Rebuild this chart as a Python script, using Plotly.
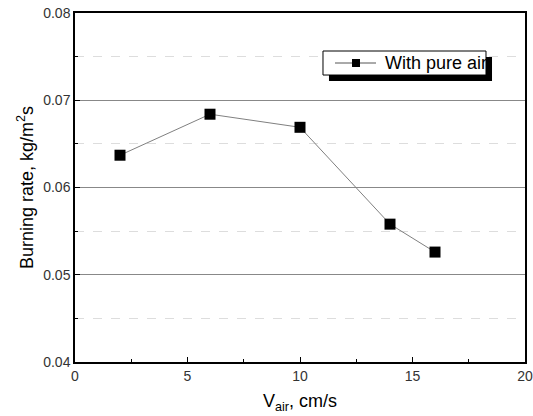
import plotly.graph_objects as go

v_air = [2, 6, 10, 14, 16]
burning_rate = [0.0637, 0.0684, 0.0669, 0.0558, 0.0526]
series_name = "With pure air"

fig = go.Figure()
fig.add_trace(go.Scatter(
    x=v_air, y=burning_rate, mode="lines+markers", name=series_name,
    line=dict(color="#808080", width=1),
    marker=dict(symbol="square", size=11, color="black"),
    showlegend=False,
))

font_family = "Arial, Liberation Sans, sans-serif"
fig.update_layout(
    width=533, height=416,
    margin=dict(l=75, r=8, t=13, b=54),
    paper_bgcolor="white", plot_bgcolor="white",
    font=dict(family=font_family, color="#222"),
    xaxis=dict(range=[0, 20], tickvals=[0, 5, 10, 15, 20], automargin=False,
               ticks="inside", ticklen=5, tickcolor="black", tickwidth=1,
               minor=dict(tickvals=[2.5, 7.5, 12.5, 17.5], ticks="inside", ticklen=3, tickcolor="black"),
               showgrid=False, zeroline=False,
               showline=True, linecolor="black", linewidth=1.5, mirror=True,
               tickfont=dict(size=14, color="#333"),
               title=dict(text="V<sub>air</sub>, cm/s", font=dict(size=18, color="black"), standoff=12)),
    yaxis=dict(range=[0.04, 0.08], tickvals=[0.04, 0.05, 0.06, 0.07, 0.08], automargin=False,
               tickformat=".2f",
               ticks="inside", ticklen=5, tickcolor="black", tickwidth=1,
               showgrid=True, gridcolor="#888", gridwidth=1,
               minor=dict(tickvals=[0.045, 0.055, 0.065, 0.075], ticks="inside", ticklen=3,
                          tickcolor="black", showgrid=True, gridcolor="#ddd", griddash="dash", gridwidth=1),
               zeroline=False,
               showline=True, linecolor="black", linewidth=1.5, mirror=True,
               tickfont=dict(size=14, color="#333"),
               title=dict(text="Burning rate, kg/m<sup>2</sup>s", font=dict(size=18, color="black"), standoff=5)),
)

# Legend drawn as a framed box with drop shadow (Origin style)
def shape(**kw):
    fig.add_shape(xref="paper", yref="paper", layer="above", **kw)

shape(type="rect", x0=0.5644, x1=0.9267, y0=0.8052, y1=0.8739,
      fillcolor="black", line=dict(width=0))
shape(type="rect", x0=0.5511, x1=0.9133, y0=0.8223, y1=0.8911,
      fillcolor="white", line=dict(color="black", width=1))
shape(type="line", x0=0.5778, x1=0.6689, y0=0.8567, y1=0.8567,
      line=dict(color="#555", width=1))
shape(type="rect", x0=0.6156, x1=0.6333, y0=0.8453, y1=0.8682,
      fillcolor="black", line=dict(width=0))
fig.add_annotation(xref="paper", yref="paper", x=0.6844, y=0.8567,
                   xanchor="left", yanchor="middle", showarrow=False,
                   text=series_name, font=dict(size=18, color="black"))

fig.write_html("out.html")
